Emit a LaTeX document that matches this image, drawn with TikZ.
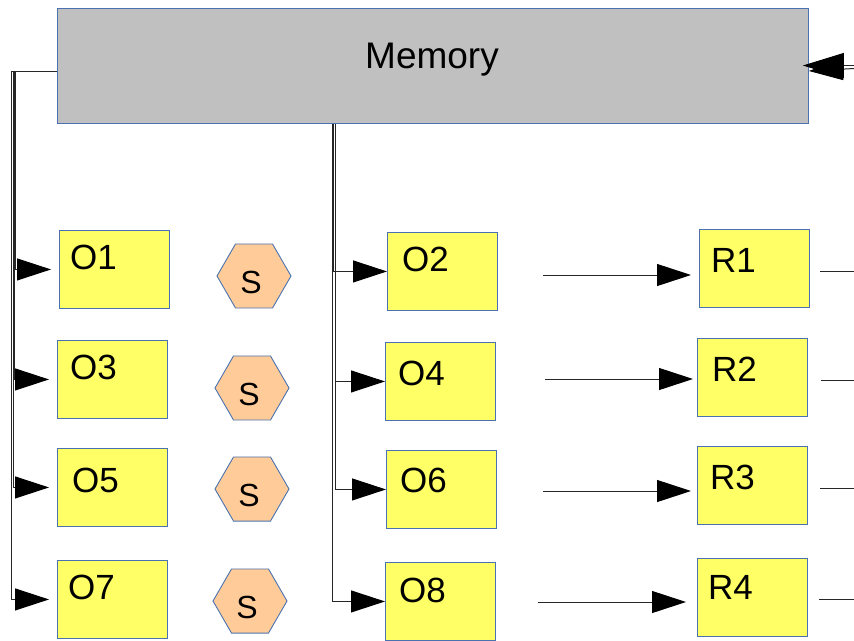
\documentclass[tikz,border=0pt]{standalone}
\usepackage{fontspec}
\setmainfont{Liberation Sans}
\usetikzlibrary{arrows.meta,shapes.geometric}
\definecolor{boxyellow}{HTML}{FFFF66}
\definecolor{boxedge}{HTML}{4A72B0}
\definecolor{memgray}{HTML}{C0C0C0}
\definecolor{hexfill}{HTML}{FFCC99}
\tikzset{
  membox/.style={draw=boxedge, fill=memgray, line width=0.9pt, minimum width=751pt,
    minimum height=115pt, inner sep=0pt, anchor=north west},
  obox/.style={draw=boxedge, fill=boxyellow, line width=0.9pt, minimum width=110pt,
    minimum height=78pt, inner sep=0pt, anchor=north west},
  hexa/.style={regular polygon, regular polygon sides=6, draw=boxedge, fill=hexfill,
    line width=0.9pt, minimum size=74pt, inner sep=0pt},
  lbl/.style={anchor=base west, inner sep=0pt, font=\fontsize{35}{42}\selectfont},
  mtext/.style={anchor=base, inner sep=0pt, font=\fontsize{37}{44}\selectfont},
  stext/.style={inner sep=0pt, font=\fontsize{32}{38}\selectfont},
  tip/.style={-{Triangle[length=34pt,width=22pt,color=black,fill=black]}},
  conn/.style={draw=black!85, line width=1pt},
}
\begin{document}
\begin{tikzpicture}[x=1pt,y=-1pt]
\useasboundingbox (0,0) rectangle (854,640);

% memory block
\node[membox] (mem) at (57,8) {};
\node[mtext] (memtext) at (432,68) {Memory};

% operand boxes
\node[obox] (o1) at (59,230) {};
\node[obox] (o3) at (57,340) {};
\node[obox] (o5) at (57,448) {};
\node[obox] (o7) at (57,560) {};
\node[obox] (o2) at (387,232) {};
\node[obox] (o4) at (385,342) {};
\node[obox] (o6) at (386,450) {};
\node[obox] (o8) at (385,562) {};
% result boxes
\node[obox] (r1) at (699,229) {};
\node[obox] (r2) at (697,338) {};
\node[obox] (r3) at (697,446) {};
\node[obox] (r4) at (697,558) {};

% box labels
\node[lbl] (t1) at (70,269) {O1};
\node[lbl] (t3) at (70,379) {O3};
\node[lbl] (t5) at (72,492) {O5};
\node[lbl] (t7) at (68,599) {O7};
\node[lbl] (t2) at (402,271) {O2};
\node[lbl] (t4) at (398,385) {O4};
\node[lbl] (t6) at (400,492) {O6};
\node[lbl] (t8) at (399,602) {O8};
\node[lbl] (u1) at (711,272) {R1};
\node[lbl] (u2) at (712,381) {R2};
\node[lbl] (u3) at (710,489) {R3};
\node[lbl] (u4) at (708,599) {R4};

% switches
\node[hexa] (s1) at (254,276) {};
\node[hexa] (s2) at (252,388) {};
\node[hexa] (s3) at (252,489) {};
\node[hexa] (s4) at (250,601) {};
\node[stext] (sl1) at ([xshift=-3pt,yshift=-6pt]s1.center) {S};
\node[stext] (sl2) at ([xshift=-3pt,yshift=-6pt]s2.center) {S};
\node[stext] (sl3) at ([xshift=-3pt,yshift=-6pt]s3.center) {S};
\node[stext] (sl4) at ([xshift=-3pt,yshift=-6pt]s4.center) {S};

% memory to left column
\coordinate (mL) at ([yshift=-5.5pt]mem.west);
\draw[conn, tip, shorten >=8pt] (mL) -- ++(-42,0) |- (o1.west);
\draw[conn, tip, shorten >=8pt] (mL) -- ++(-42.5,0) |- (o3.west);
\draw[conn, tip, shorten >=8pt] (mL) -- ++(-44,0) |- (o5.west);
\draw[conn, tip, shorten >=8pt] (mL) -- ++(-46,0) |- (o7.west);

% memory to middle column
\coordinate (mB) at ([xshift=-99.5pt]mem.south);
\draw[conn, tip] (mB) |- (o2.west);
\draw[conn, tip] ([xshift=2.5pt]mB) |- (o4.west);
\draw[conn, tip] ([xshift=2.5pt]mB) |- (o6.west);
\draw[conn, tip] ([xshift=-1pt]mB) |- (o8.west);

% operand to result arrows
\coordinate (a1s) at (543,275); \coordinate (a1e) at (691,275);
\coordinate (a2s) at (545,379); \coordinate (a2e) at (693,379);
\coordinate (a3s) at (543,491); \coordinate (a3e) at (691,491);
\coordinate (a4s) at (538,602); \coordinate (a4e) at (686,602);
\draw[conn, tip] (a1s) -- (a1e);
\draw[conn, tip] (a2s) -- (a2e);
\draw[conn, tip] (a3s) -- (a3e);
\draw[conn, tip] (a4s) -- (a4e);

% outgoing result lines
\coordinate (b1s) at (820,271); \coordinate (b1e) at (854,271);
\coordinate (b2s) at (821,380); \coordinate (b2e) at (854,380);
\coordinate (b3s) at (820,488); \coordinate (b3e) at (854,488);
\coordinate (b4s) at (819,599); \coordinate (b4e) at (854,599);
\draw[conn] (b1s) -- (b1e);
\draw[conn] (b2s) -- (b2e);
\draw[conn] (b3s) -- (b3e);
\draw[conn] (b4s) -- (b4e);

% write-back into memory
\coordinate (w1) at (854,65.5);
\coordinate (w2) at (854,68.5);
\draw[conn, -{Triangle[length=34pt,width=22pt,color=black,fill=black]}] (w2) -- ([yshift=-2.5pt]mem.east |- w2);
\draw[conn, -{Triangle[length=41pt,width=25pt,color=black,fill=black]}] (w1) -- ([xshift=-6pt]mem.east |- w1);
\end{tikzpicture}
\end{document}
